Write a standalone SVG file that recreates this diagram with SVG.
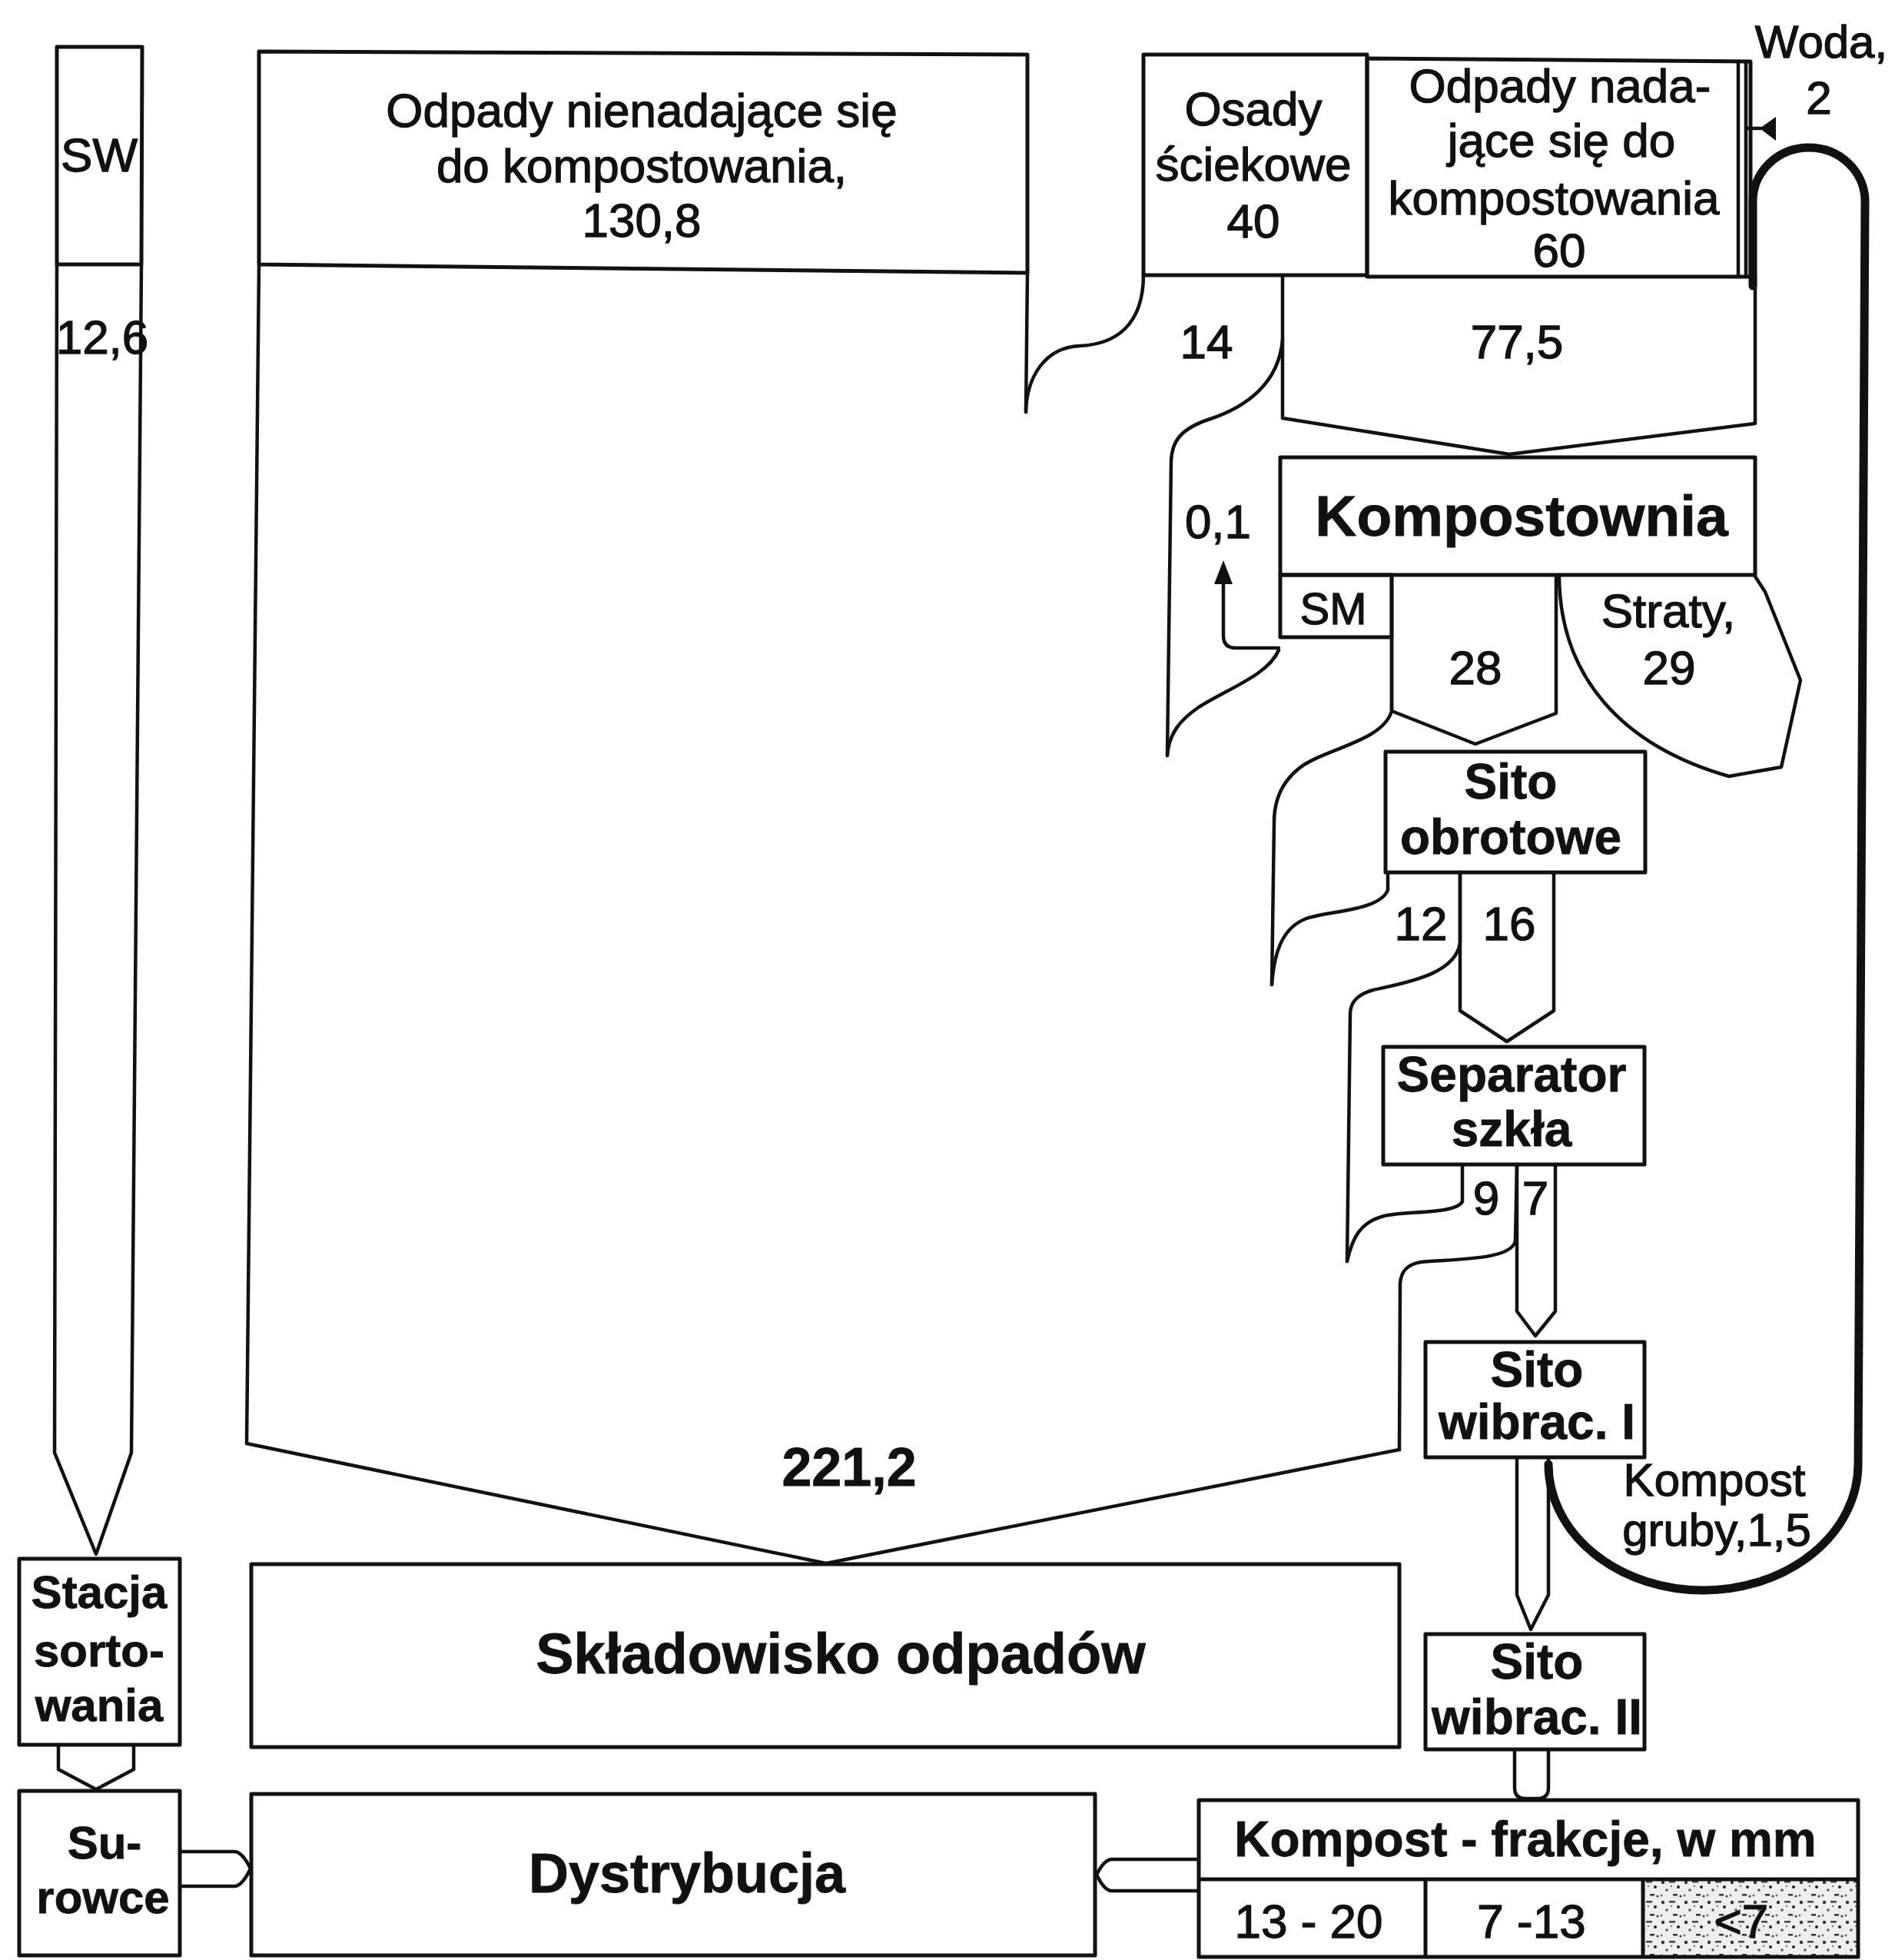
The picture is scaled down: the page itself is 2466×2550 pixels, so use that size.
<svg xmlns="http://www.w3.org/2000/svg" width="2466" height="2550" viewBox="0 0 2466 2550">
<style>
.bx{fill:none;stroke:#111;stroke-width:5;stroke-linejoin:round}
.fl{fill:none;stroke:#111;stroke-width:4.5;stroke-linejoin:round;stroke-linecap:round}
.thick{fill:none;stroke:#111;stroke-width:11;stroke-linecap:round}
text{font-family:"Liberation Sans",Arial,sans-serif;fill:#111;stroke:#111;stroke-width:1.3;text-anchor:middle;font-size:62px}
.b{font-weight:bold;font-size:64px;stroke-width:0.8}
</style>
<defs>
<pattern id="stip" width="30" height="26" patternUnits="userSpaceOnUse">
<rect width="30" height="26" fill="#eee"/>
<circle cx="4" cy="5" r="2.2" fill="#333"/>
<rect x="12" y="3" width="8" height="2.5" fill="#444"/>
<circle cx="24" cy="11" r="2" fill="#222"/>
<circle cx="9" cy="15" r="1.8" fill="#555"/>
<rect x="17" y="20" width="6" height="2.5" fill="#333"/>
<circle cx="27" cy="23" r="1.6" fill="#444"/>
<circle cx="2" cy="22" r="1.4" fill="#666"/>
<circle cx="15" cy="10" r="1.2" fill="#777"/>
</pattern>
</defs>
<rect width="2466" height="2550" fill="#fff"/>

<g id="connectors">
<g id="flow-sw">
<path class="fl" d="M74 344 L71 1890 L125 2022 L171 1890 L184 344"/>
</g>
<g id="flow-221">
<path class="fl" d="M337 344 L321 1878 L1075 2034"/>
<path class="fl" d="M1821 1886 L1075 2034"/>
<path class="fl" d="M1337 355 L1335 536"/>
</g>
<g id="flow-14">
<path class="fl" d="M1488 357 C1488 425 1450 448 1405 450 C1360 452 1336 490 1335 536"/>
<path class="fl" d="M1669 442 C1664 500 1620 530 1575 545 C1535 558 1525 575 1524 600 L1519 983"/>
</g>
<g id="flow-775">
<path class="fl" d="M1669 360 L1669 544 L1964 591 L2284 551 L2284 362"/>
</g>
<g id="flow-sm">
<path class="fl" d="M1664 846 C1650 878 1600 895 1560 920 C1535 937 1521 955 1519 983"/>
<path class="fl" d="M1811 829 L1811 925 C1800 965 1720 975 1690 1000 C1665 1020 1658 1045 1658 1070 L1655 1281"/>
<path class="fl" d="M1664 843 L1608 843 Q1592 843 1592 827 L1592 755"/>
<polygon points="1592,729 1580,760 1604,760" fill="#111"/>
</g>
<g id="flow-28">
<path class="fl" d="M1811 750 L1811 925 L1920 968 L2025 928 L2025 750"/>
</g>
<g id="flow-straty">
<path class="fl" d="M2029 750 C2030 880 2110 970 2250 1010 L2318 998 L2343 885 L2297 770 L2284 750"/>
</g>
<g id="flow-12">
<path class="fl" d="M1806 1135 L1806 1158 C1795 1185 1730 1185 1700 1195 C1668 1207 1658 1240 1655 1281"/>
<path class="fl" d="M1900 1135 L1900 1226 C1895 1270 1820 1280 1787 1288 C1765 1294 1757 1305 1757 1320 L1753 1641"/>
</g>
<g id="flow-16">
<path class="fl" d="M1900 1135 L1900 1315 L1961 1355 L2022 1315 L2022 1135"/>
</g>
<g id="flow-9">
<path class="fl" d="M1903 1515 L1903 1563 C1895 1580 1830 1575 1801 1582 C1770 1590 1760 1610 1753 1641"/>
<path class="fl" d="M1974 1515 L1972 1614 C1968 1640 1890 1638 1849 1642 C1830 1645 1823 1655 1822 1670 L1821 1886"/>
</g>
<g id="flow-7">
<path class="fl" d="M1974 1515 L1974 1706 L1998 1738 L2024 1706 L2024 1515"/>
</g>
<g id="flow-s1-s2">
<path class="fl" d="M1974 1896 L1974 2075 L1992 2120 L2015 2075 L2015 1896"/>
</g>
<g id="flow-s2-kf">
<path class="fl" d="M1971 2276 L1971 2326 Q1971 2340 1985 2340 L2001 2340 Q2015 2340 2015 2326 L2015 2276"/>
</g>
<g id="flow-recirc">
<path class="thick" d="M2281 372 L2281 262 A73 70 0 0 1 2427 262 L2418 1905 A201.5 164 0 0 1 2015 1905"/>
</g>
<g id="flow-water">
<path class="fl" d="M2272 80 L2272 360"/>
<path class="fl" d="M2274 167 L2292 167"/>
<polygon points="2290,167 2311,152 2311,183" fill="#111"/>
</g>
<g id="flow-st-su">
<path class="fl" d="M76 2270 L76 2302 L125 2328 L174 2302 L174 2270"/>
</g>
<g id="flow-su-dy">
<path class="fl" d="M234 2409 L305 2409 Q315 2409 326 2431 Q315 2454 305 2454 L234 2454"/>
</g>
<g id="flow-kf-dy">
<path class="fl" d="M1560 2419 L1447 2419 Q1437 2419 1427 2439 Q1437 2460 1447 2460 L1560 2460"/>
</g>
</g>

<g id="node-sw">
<path class="bx" d="M74 344 L74 61 L185 61 L184 344 Z"/>
<text x="129" y="223">SW</text>
<text x="133" y="460">12,6</text>
</g>

<g id="node-odpady-nie">
<path class="bx" d="M337 67 L1337 71 L1337 355 L337 344 Z"/>
<text x="835" y="165">Odpady nienadające się</text>
<text x="835" y="237">do kompostowania,</text>
<text x="835" y="308">130,8</text>
</g>

<g id="node-osady">
<rect class="bx" x="1488" y="71" width="291" height="287"/>
<text x="1631" y="163">Osady</text>
<text x="1631" y="235">ściekowe</text>
<text x="1631" y="309">40</text>
</g>

<g id="node-odpady-nada">
<path class="bx" d="M1779 76 L2278 80 L2278 360 L1779 360 Z"/>
<path class="fl" d="M2262 80 L2262 360"/>
<text x="2030" y="133">Odpady nada-</text>
<text x="2032" y="204">jące się do</text>
<text x="2022" y="279">kompostowania</text>
<text x="2029" y="347">60</text>
</g>

<g id="label-woda">
<text x="2370" y="75" style="font-size:60px">Woda,</text>
<text x="2367" y="148" style="font-size:60px">2</text>
</g>

<g id="labels-flows">
<text x="1570" y="466">14</text>
<text x="1974" y="466">77,5</text>
<text x="1585" y="700">0,1</text>
<text x="1920" y="890">28</text>
<text x="2171" y="816">Straty,</text>
<text x="2172" y="890">29</text>
<text x="1849" y="1223">12</text>
<text x="1964" y="1223">16</text>
<text x="1934" y="1580">9</text>
<text x="1998" y="1580">7</text>
<text x="2231" y="1946" style="font-size:60px">Kompost</text>
<text x="2234" y="2011" style="font-size:60px">gruby,1,5</text>
<text x="1105" y="1933" class="b" style="font-size:70px">221,2</text>
</g>

<g id="node-kompostownia">
<rect class="bx" x="1666" y="595" width="618" height="153"/>
<text x="1980" y="697" class="b" style="font-size:75px">Kompostownia</text>
</g>

<g id="node-sm">
<rect class="bx" x="1666" y="748" width="145" height="81"/>
<text x="1735" y="812" style="font-size:58px">SM</text>
</g>

<g id="node-sito-obrotowe">
<rect class="bx" x="1803" y="978" width="338" height="157"/>
<text x="1966" y="1039" class="b">Sito</text>
<text x="1966" y="1111" class="b">obrotowe</text>
</g>

<g id="node-separator">
<rect class="bx" x="1800" y="1362" width="340" height="153"/>
<text x="1967" y="1420" class="b">Separator</text>
<text x="1967" y="1491" class="b">szkła</text>
</g>

<g id="node-sito-1">
<rect class="bx" x="1855" y="1746" width="285" height="150"/>
<text x="2000" y="1804" class="b">Sito</text>
<text x="2000" y="1872" class="b">wibrac. I</text>
</g>

<g id="node-sito-2">
<rect class="bx" x="1855" y="2126" width="285" height="150"/>
<text x="2000" y="2184" class="b">Sito</text>
<text x="2000" y="2256" class="b">wibrac. II</text>
</g>

<g id="node-skladowisko">
<rect class="bx" x="327" y="2035" width="1494" height="238"/>
<text x="1094" y="2177" class="b" style="font-size:74px">Składowisko odpadów</text>
</g>

<g id="node-stacja">
<rect class="bx" x="25" y="2028" width="209" height="242"/>
<text x="129" y="2092" class="b" style="font-size:60px">Stacja</text>
<text x="129" y="2168" class="b" style="font-size:60px">sorto-</text>
<text x="129" y="2239" class="b" style="font-size:60px">wania</text>
</g>

<g id="node-surowce">
<rect class="bx" x="25" y="2330" width="209" height="214"/>
<text x="136" y="2418" class="b" style="font-size:60px">Su-</text>
<text x="134" y="2489" class="b" style="font-size:60px">rowce</text>
</g>

<g id="node-dystrybucja">
<rect class="bx" x="327" y="2334" width="1098" height="210"/>
<text x="894" y="2462" class="b" style="font-size:72px">Dystrybucja</text>
</g>

<g id="node-kompost-frakcje">
<rect x="2138" y="2445" width="280" height="101" fill="url(#stip)"/>
<rect class="bx" x="1560" y="2342" width="858" height="204"/>
<path class="bx" d="M1560 2445 L2418 2445 M1855 2445 L1855 2546 M2138 2445 L2138 2546"/>
<text x="1985" y="2415" class="b">Kompost - frakcje, w mm</text>
<text x="1703" y="2521">13 - 20</text>
<text x="1993" y="2521">7 -13</text>
<text x="2266" y="2521">&lt;7</text>
</g>
</svg>
